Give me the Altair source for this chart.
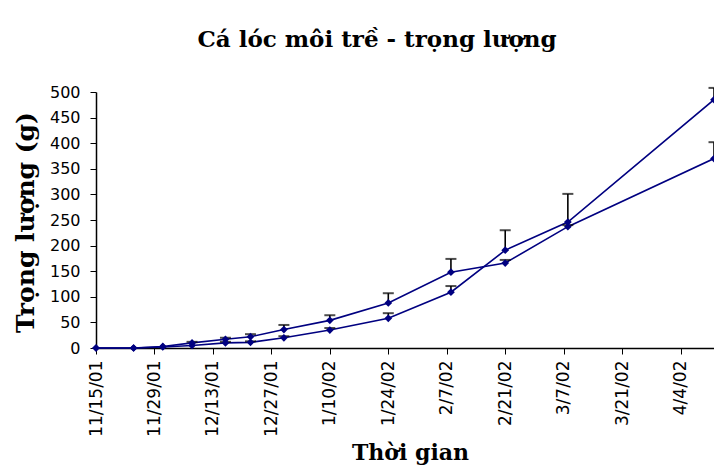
import altair as alt
import pandas as pd

# ---- data ----
dates = ["2001-11-15", "2001-11-24", "2001-12-01", "2001-12-08", "2001-12-16",
         "2001-12-22", "2001-12-30", "2002-01-10", "2002-01-24", "2002-02-08",
         "2002-02-21", "2002-03-08", "2002-04-12"]
series_a = [0, 0, 3, 10, 17, 22, 36, 54, 88, 148, 166, 237, 370]
series_a_top = [0, 0, 4, 12, 20, 27, 45, 64, 107, 174, 172, 240, 402]
series_b = [0, 0, 2, 5, 10, 11, 20, 35, 58, 109, 191, 246, 485]
series_b_top = [0, 0, 3, 6, 12, 13, 23, 39, 68, 121, 230, 301, 508]

tick_dates = [(2001, 11, 15), (2001, 11, 29), (2001, 12, 13), (2001, 12, 27),
              (2002, 1, 10), (2002, 1, 24), (2002, 2, 7), (2002, 2, 21),
              (2002, 3, 7), (2002, 3, 21), (2002, 4, 4)]
y_ticks = [0, 50, 100, 150, 200, 250, 300, 350, 400, 450, 500]

rows = []
for name, vals, tops in [("A", series_a, series_a_top), ("B", series_b, series_b_top)]:
    for d, v, t in zip(dates, vals, tops):
        rows.append({"date": d, "series": name, "value": v, "top": t})
df = pd.DataFrame(rows)
err_df = df[df["top"] > df["value"] + 1]

navy = "#000080"

def dt(y, m, d):
    return alt.DateTime(year=y, month=m, date=d, utc=True)

x_scale = alt.Scale(type="utc", domain=[dt(2001, 11, 15), dt(2002, 4, 12)], nice=False)
x_axis = alt.Axis(
    values=[dt(*t) for t in tick_dates],
    labelExpr="utcFormat(datum.value, '%-m/%-d/%y')",
    labelAngle=270,
    labelFont="DejaVu Sans",
    labelFontSize=17,
    labelPadding=6,
    labelColor="black",
    title="Thời gian",
    titleFont="DejaVu Serif",
    titleFontSize=22,
    titleFontWeight="bold",
    titleColor="black",
    titleX=314,
    titleY=111,
    titleBaseline="alphabetic",
    titleAlign="center",
    grid=False,
    tickColor="black",
    tickSize=6,
    domainColor="black",
    domainWidth=1.5,
    labelOverlap=False,
)

y_scale = alt.Scale(domain=[0, 500], nice=False)
y_axis = alt.Axis(
    values=y_ticks,
    tickCount=11,
    labelFont="DejaVu Sans",
    labelFontSize=16,
    labelPadding=10,
    labelColor="black",
    labelOverlap=False,
    title="Trọng lượng (g)",
    titleFont="DejaVu Serif",
    titleFontSize=25,
    titleFontWeight="bold",
    titleColor="black",
    titleAngle=270,
    titleX=-71,
    titleY=130,
    titleBaseline="middle",
    titleAlign="center",
    grid=False,
    tickColor="black",
    tickSize=6,
    domainColor="black",
    domainWidth=1.5,
)

X = alt.X("date:T", scale=x_scale, axis=x_axis)

lines = alt.Chart(df).mark_line(color=navy, strokeWidth=1.6, clip=False).encode(
    x=X, y=alt.Y("value:Q", scale=y_scale, axis=y_axis), detail="series:N"
)
points = alt.Chart(df).mark_point(
    shape="diamond", filled=True, color=navy, size=60, opacity=1, clip=False
).encode(x=X, y=alt.Y("value:Q", scale=y_scale, axis=y_axis))

err_rule = alt.Chart(err_df).mark_rule(color="black", strokeWidth=1.6, clip=False).encode(
    x=X, y=alt.Y("value:Q", scale=y_scale, axis=y_axis), y2="top:Q"
)
err_cap = alt.Chart(err_df).mark_tick(
    color="black", orient="horizontal", size=11, thickness=2, clip=False
).encode(x=X, y=alt.Y("top:Q", scale=y_scale, axis=y_axis))

chart = alt.layer(lines, err_rule, err_cap, points).properties(
    width=618,
    height=256,
    background="white",
    title=alt.TitleParams(
        "Cá lóc môi trề - trọng lượng",
        font="DejaVu Serif",
        fontSize=23,
        fontWeight="bold",
        color="black",
        anchor="middle",
        frame="group",
        dx=-28,
        offset=32,
    ),
    autosize=alt.AutoSizeParams(type="none"),
    padding={"left": 88, "top": 84, "right": 0, "bottom": 118},
).configure_view(stroke=None).configure_axis(labelOverlap=False)

chart.save("out.html", embed_options={"renderer": "svg", "actions": False})
